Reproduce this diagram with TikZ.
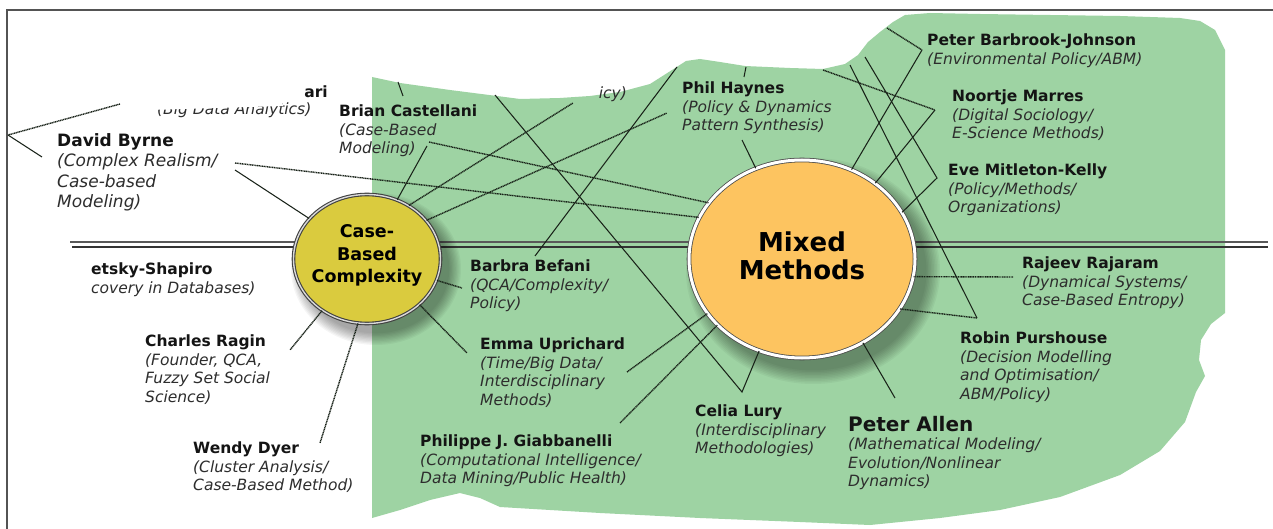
\documentclass[tikz,border=0pt]{standalone}
\usepackage{fontspec}
\setmainfont{DejaVu Sans}
\usetikzlibrary{shapes.geometric}

\definecolor{field}{RGB}{158,211,163}
\definecolor{mmfill}{RGB}{253,196,96}
\definecolor{cbcfill}{RGB}{218,203,62}
\definecolor{ink}{RGB}{20,20,20}
\definecolor{subink}{RGB}{45,45,45}
\definecolor{linkink}{RGB}{25,35,25}

\newcommand{\persub}[1]{{\color{subink}\itshape #1}}

\tikzset{
  x=1pt, y=-1pt,
  person/.style={anchor=north west, inner sep=0pt, align=left,
    font=\fontsize{15.5}{18.5}\selectfont, text=ink},
  bigperson/.style={person, font=\fontsize{17}{20.5}\selectfont},
  link/.style={draw=linkink, line width=1.05pt},
  dotlink/.style={draw=linkink, line width=1.4pt, dash pattern=on 1.1pt off 0.6pt},
  hub/.style={ellipse, inner sep=0pt},
  hublabel/.style={align=center, inner sep=0pt, text=black},
  axisline/.style={line width=1.6pt},
}

\begin{document}
\begin{tikzpicture}
\useasboundingbox (0,0) rectangle (1273,529);
\fill[white] (0,0) rectangle (1273,529);

% outer frame
\draw[gray!65!black, line width=1.8pt] (7,529) -- (7,10) -- (1273,10);

% green field of mixed methods
\fill[field] (372,77) -- (400,83) -- (450,90) -- (497,96) -- (520,99) -- (560,98)
  -- (590,96) -- (620,92) -- (650,84) -- (672,70) -- (686,61) -- (700,59)
  -- (720,62) -- (745,66) -- (790,68) -- (823,69) -- (845,64) -- (858,55)
  -- (868,42) -- (880,32) -- (893,22) -- (905,15) -- (930,13) -- (980,14)
  -- (1050,15) -- (1120,16) -- (1180,18) -- (1200,21) -- (1215,30) -- (1225,50)
  -- (1225,313) -- (1211,324) -- (1201,340) -- (1199,360) -- (1205,376)
  -- (1196,392) -- (1185,422) -- (1160,451) -- (1120,475) -- (1060,497)
  -- (1000,510) -- (940,518) -- (870,525) -- (800,522) -- (700,518)
  -- (600,513) -- (500,507) -- (480,498) -- (460,493) -- (430,500)
  -- (400,510) -- (372,518) -- cycle;

% horizontal axis
\coordinate (axisL) at (70,242);
\coordinate (axisR) at (1268,242);
\coordinate (axisL2) at (72,247);
\coordinate (axisR2) at (1268,247);
\draw[axisline, gray!70!black] (axisL) -- (axisR);
\draw[axisline, black!80] (axisL2) -- (axisR2);

% soft shadows under the two hubs
\foreach \k in {0,...,9} {
  \fill[black, opacity=0.04] (376,269) ellipse [x radius={(85-\k*1.3)*1pt}, y radius={(76-\k*1.3)*1pt}];
  \fill[black, opacity=0.04] (813,271) ellipse [x radius={(127-\k*1.5)*1pt}, y radius={(113-\k*1.5)*1pt}];
}

% hubs
\node[hub, minimum width=147pt, minimum height=129pt, fill=cbcfill,
  draw=black!75, line width=1.1pt, double=white!70!gray, double distance=1.4pt] (cbc) at (367,259) {};
\node[hub, minimum width=226pt, minimum height=198pt, fill=mmfill,
  draw=gray!60!black, line width=0.8pt, double=white, double distance=3pt] (mm) at (802,259) {};

\node[hublabel, font=\fontsize{17.5}{22.5}\selectfont\bfseries] (cbclabel) at (367,255.5) {Case-\\Based\\Complexity};
\node[hublabel, font=\fontsize{26}{28}\selectfont\bfseries] (mmlabel) at (802,256) {Mixed\\Methods};

% connector end points beside the labels
\coordinate (ariA) at (120,104);
\coordinate (ariB) at (8,135);
\coordinate (ariC) at (42,157);
\coordinate (dbA) at (235,163);
\coordinate (dbB) at (235,170);
\coordinate (bcT1) at (398,82);
\coordinate (bcT2) at (403,96);
\coordinate (bcA) at (427,146);
\coordinate (bcB) at (429,142);
\coordinate (icyA) at (573,103);
\coordinate (phA) at (667,113);
\coordinate (clTop) at (495,95);
\coordinate (clV) at (742,392);
\coordinate (bbA) at (535,256);
\coordinate (bbTop) at (677,67);
\coordinate (bbB) at (462,288);
\coordinate (euA) at (467,353);
\coordinate (euB) at (627,372);
\coordinate (pgA) at (620,423);
\coordinate (phT1) at (746,67);
\coordinate (phT2) at (744,77);
\coordinate (phB) at (742,140);
\coordinate (pbjTop) at (887,28);
\coordinate (pbjV) at (922,50);
\coordinate (nmTop) at (823,70);
\coordinate (nmV) at (935,110);
\coordinate (emkTop) at (865,57);
\coordinate (emkV) at (937,178);
\coordinate (rpTop) at (850,65);
\coordinate (rpV) at (977,318);
\coordinate (rrA) at (1013,277);
\coordinate (paA) at (895,398);
\coordinate (crA) at (290,350);
\coordinate (wdA) at (320,443);

% connectors
\draw[dotlink] (ariA) -- (ariB);
\draw[link] (ariB) -- (ariC);
\draw[dotlink] (dbA) -- (mm.158);
\draw[link] (dbB) -- (cbc.145);
\draw[link] (bcT1) -- (bcT2);
\draw[link] (bcA) -- (cbc.63);
\draw[dotlink] (bcB) -- (mm.149);
\draw[dotlink] (cbc.52) -- (icyA);
\draw[dotlink] (cbc.33) -- (phA);
\draw[link] (clTop) -- (clV) -- (mm.245);
\draw[link] (bbA) -- (bbTop);
\draw[dotlink] (cbc.-17) -- (bbB);
\draw[dotlink] (cbc.-41) -- (euA);
\draw[dotlink] (euB) -- (mm.210);
\draw[dotlink] (pgA) -- (mm.218.6);
\draw[link] (phT1) -- (phT2);
\draw[link] (phB) -- (mm.117);
\draw[dotlink] (pbjTop) -- (pbjV);
\draw[link] (pbjV) -- (mm.61);
\draw[dotlink] (nmTop) -- (nmV);
\draw[link] (nmV) -- (mm.46);
\draw[link] (emkTop) -- (emkV) -- (mm.25);
\draw[link] (rpTop) -- (rpV);
\draw[dotlink] (rpV) -- (mm.-27);
\draw[dotlink] (mm.-9) -- (rrA);
\draw[link] (mm.-54.5) -- (paA);
\draw[dotlink] (cbc.229) -- (crA);
\draw[dotlink] (cbc.262.5) -- (wdA);

% people around case-based complexity
\node[person, anchor=north east] (ariname) at (328,86) {\textbf{ari}};
\node[person] (arisub) at (157,103) {\persub{(Big Data Analytics)}};
\fill[white] (150,95) -- (280,95) -- (283,106) -- (150,110) -- cycle;
\node[person] (castellani) at (339,105) {\textbf{Brian Castellani}\\\persub{(Case-Based}\\\persub{Modeling)}};
\node[person, anchor=north east] (icy) at (627,87) {\persub{icy)}};
\node[bigperson] (byrne) at (57,133) {\textbf{David Byrne}\\\persub{(Complex Realism/}\\\persub{Case-based}\\\persub{Modeling)}};
\node[person] (shapiro) at (91,263) {\textbf{etsky-Shapiro}\\\persub{covery in Databases)}};
\node[person] (ragin) at (145,335) {\textbf{Charles Ragin}\\\persub{(Founder, QCA,}\\\persub{Fuzzy Set Social}\\\persub{Science)}};
\node[person] (dyer) at (193,442) {\textbf{Wendy Dyer}\\\persub{(Cluster Analysis/}\\\persub{Case-Based Method)}};
\node[person] (befani) at (470,260) {\textbf{Barbra Befani}\\\persub{(QCA/Complexity/}\\\persub{Policy)}};
\node[person] (uprichard) at (480,338) {\textbf{Emma Uprichard}\\\persub{(Time/Big Data/}\\\persub{Interdisciplinary}\\\persub{Methods)}};
\node[person] (giabbanelli) at (420,435) {\textbf{Philippe J. Giabbanelli}\\\persub{(Computational Intelligence/}\\\persub{Data Mining/Public Health)}};

% people around mixed methods
\node[person] (lury) at (695,405) {\textbf{Celia Lury}\\\persub{(Interdisciplinary}\\\persub{Methodologies)}};
\node[person] (allen) at (848,416) {{\fontsize{20}{20}\selectfont\textbf{Peter Allen}}\\\persub{(Mathematical Modeling/}\\\persub{Evolution/Nonlinear}\\\persub{Dynamics)}};
\node[person] (purshouse) at (960,332) {\textbf{Robin Purshouse}\\\persub{(Decision Modelling}\\\persub{and Optimisation/}\\\persub{ABM/Policy)}};
\node[person] (rajaram) at (1022,257) {\textbf{Rajeev Rajaram}\\\persub{(Dynamical Systems/}\\\persub{Case-Based Entropy)}};
\node[person] (mitleton) at (948,164) {\textbf{Eve Mitleton-Kelly}\\\persub{(Policy/Methods/}\\\persub{Organizations)}};
\node[person] (marres) at (952,90) {\textbf{Noortje Marres}\\\persub{(Digital Sociology/}\\\persub{E-Science Methods)}};
\node[person] (barbrook) at (927,34) {\textbf{Peter Barbrook-Johnson}\\\persub{(Environmental Policy/ABM)}};
\node[person] (haynes) at (682,82) {\textbf{Phil Haynes}\\\persub{(Policy \& Dynamics}\\\persub{Pattern Synthesis)}};
\end{tikzpicture}
\end{document}
